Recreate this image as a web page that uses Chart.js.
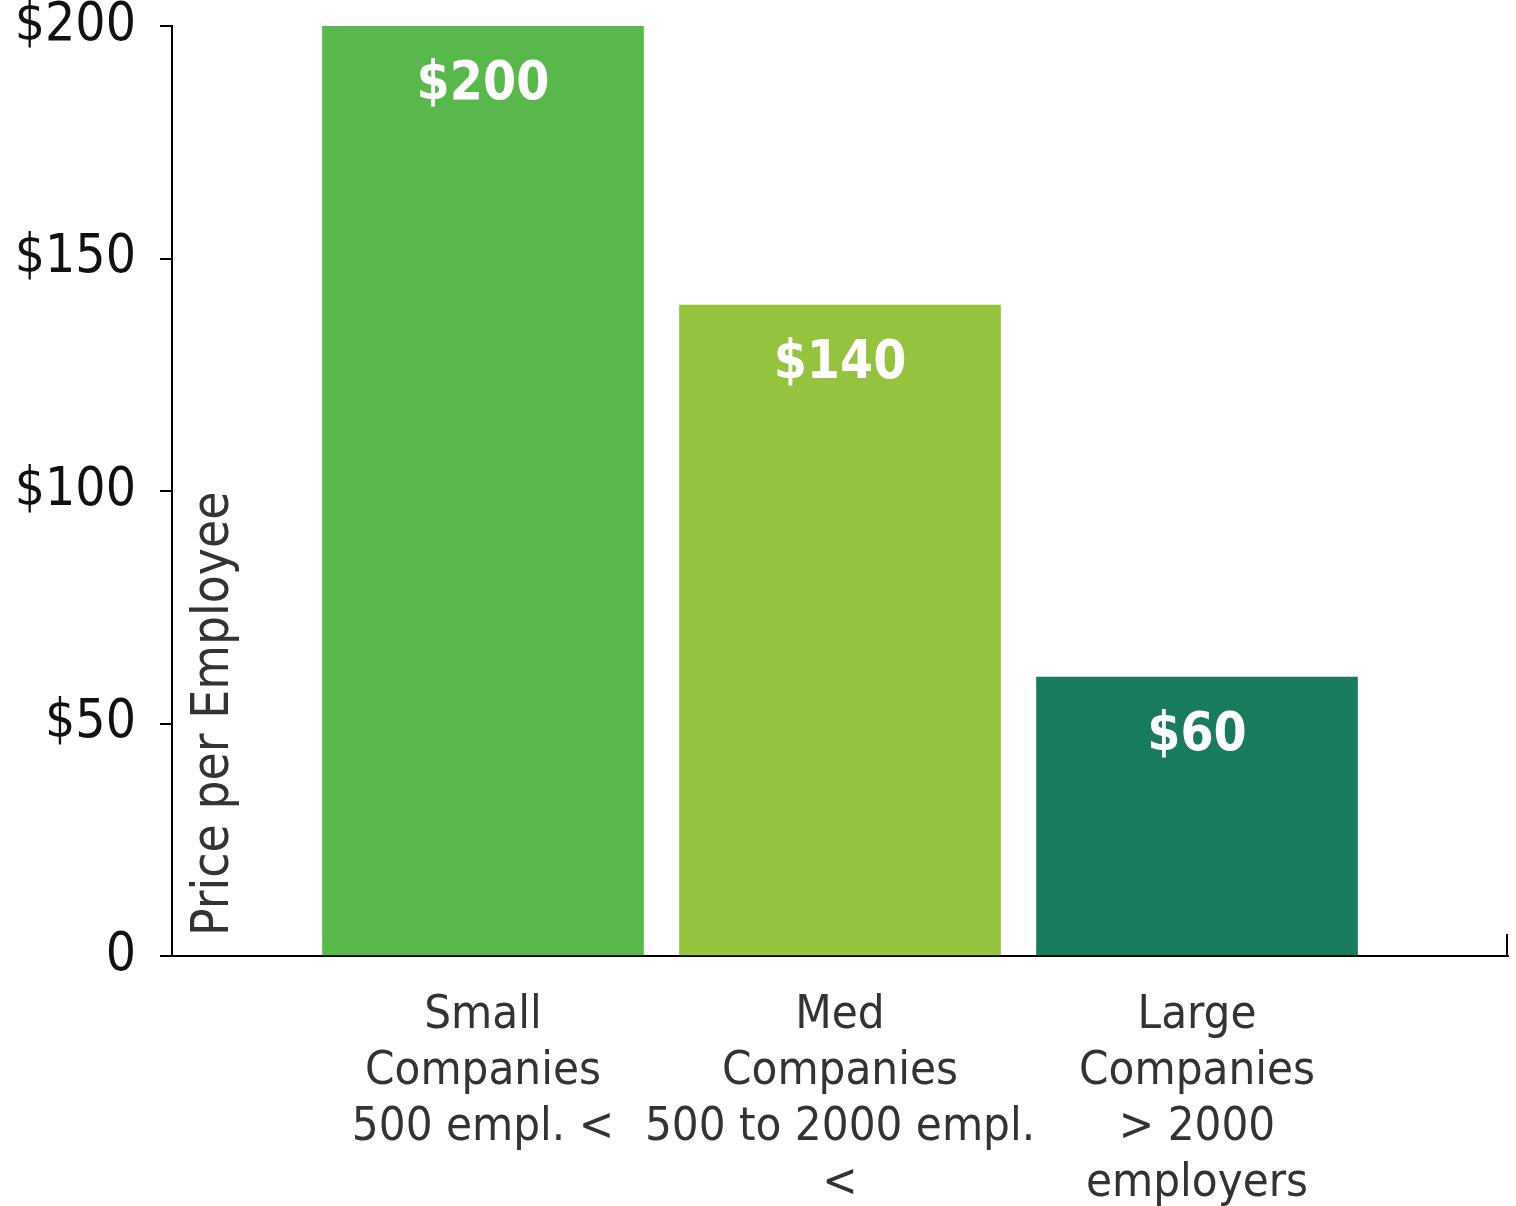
<!DOCTYPE html>
<html>
<head>
<meta charset="utf-8">
<script src="https://cdn.jsdelivr.net/npm/chart.js@4/dist/chart.umd.min.js"></script>
<style>
html,body{margin:0;padding:0;background:#fff;}
#wrap{width:1516px;height:1206px;position:relative;}
</style>
</head>
<body>
<div id="wrap"><canvas id="c" width="1516" height="1206"></canvas></div>
<script>
const categories = [
  ["Small", "Companies", "500 empl. <"],
  ["Med", "Companies", "500 to 2000 empl.", "<"],
  ["Large", "Companies", "> 2000", "employers"]
];
const values = [200, 140, 60];
const barColors = ["#58b84b", "#95c33d", "#187b5e"];
const yTicks = [0, 50, 100, 150, 200];
const yTitle = "Price per Employee";

const FONT = "'DejaVu Sans Condensed', 'DejaVu Sans', sans-serif";

const overlay = {
  id: 'overlay',
  afterDatasetsDraw(chart) {
    const ctx = chart.ctx;
    const meta = chart.getDatasetMeta(0);
    ctx.save();
    ctx.fillStyle = '#ffffff';
    ctx.font = "bold 53px " + FONT;
    ctx.textAlign = 'center';
    ctx.textBaseline = 'middle';
    meta.data.forEach((bar, i) => {
      ctx.fillText('$' + values[i], bar.x, bar.y + 59);
    });
    // y title inside plot
    const ca = chart.chartArea;
    ctx.translate(ca.left + 43, ca.bottom - 20);
    ctx.rotate(-Math.PI / 2);
    ctx.fillStyle = '#333333';
    ctx.font = "51px " + FONT;
    ctx.textAlign = 'left';
    ctx.textBaseline = 'middle';
    ctx.fillText(yTitle, 0, 0);
    ctx.restore();
    // end tick on x axis
    ctx.save();
    ctx.strokeStyle = '#000';
    ctx.lineWidth = 2;
    ctx.beginPath();
    ctx.moveTo(ca.right - 1, ca.bottom);
    ctx.lineTo(ca.right - 1, ca.bottom - 22);
    ctx.stroke();
    ctx.restore();
  }
};

new Chart(document.getElementById('c'), {
  type: 'bar',
  data: {
    datasets: [{
      data: categories.map((c, i) => ({ x: i, y: values[i] })),
      backgroundColor: barColors,
      borderWidth: 0,
      barThickness: 321
    }]
  },
  options: {
    responsive: false,
    animation: false,
    devicePixelRatio: 1,
    layout: { padding: { top: 26, right: 8, left: 0, bottom: 0 } },
    plugins: { legend: { display: false }, tooltip: { enabled: false } },
    scales: {
      x: {
        type: 'linear',
        offset: false,
        min: -0.871,
        max: 2.871,
        afterBuildTicks(scale) { scale.ticks = categories.map((c, i) => ({ value: i })); },
        afterFit(scale) { scale.height = 250; scale.paddingLeft = 0; scale.paddingRight = 0; },
        grid: { display: false, offset: false },
        border: { display: true, color: '#000', width: 2 },
        ticks: {
          autoSkip: false,
          maxRotation: 0,
          padding: 24,
          color: '#333333',
          font: { family: FONT, size: 47, lineHeight: 1.19 },
          callback: (v) => categories[v] || ''
        }
      },
      y: {
        min: 0,
        max: 200,
        afterBuildTicks(scale) { scale.ticks = yTicks.map(v => ({ value: v })); },
        afterFit(scale) { scale.width = 172; scale.paddingTop = 0; scale.paddingBottom = 0; },
        grid: { drawOnChartArea: false, drawTicks: true, tickLength: 12, color: '#000', lineWidth: 2 },
        border: { display: true, color: '#000', width: 2 },
        ticks: {
          padding: 24,
          color: '#111111',
          font: { family: FONT, size: 53 },
          callback: (v) => v === 0 ? '0' : '$' + v
        }
      }
    }
  },
  plugins: [overlay]
});
</script>
</body>
</html>
